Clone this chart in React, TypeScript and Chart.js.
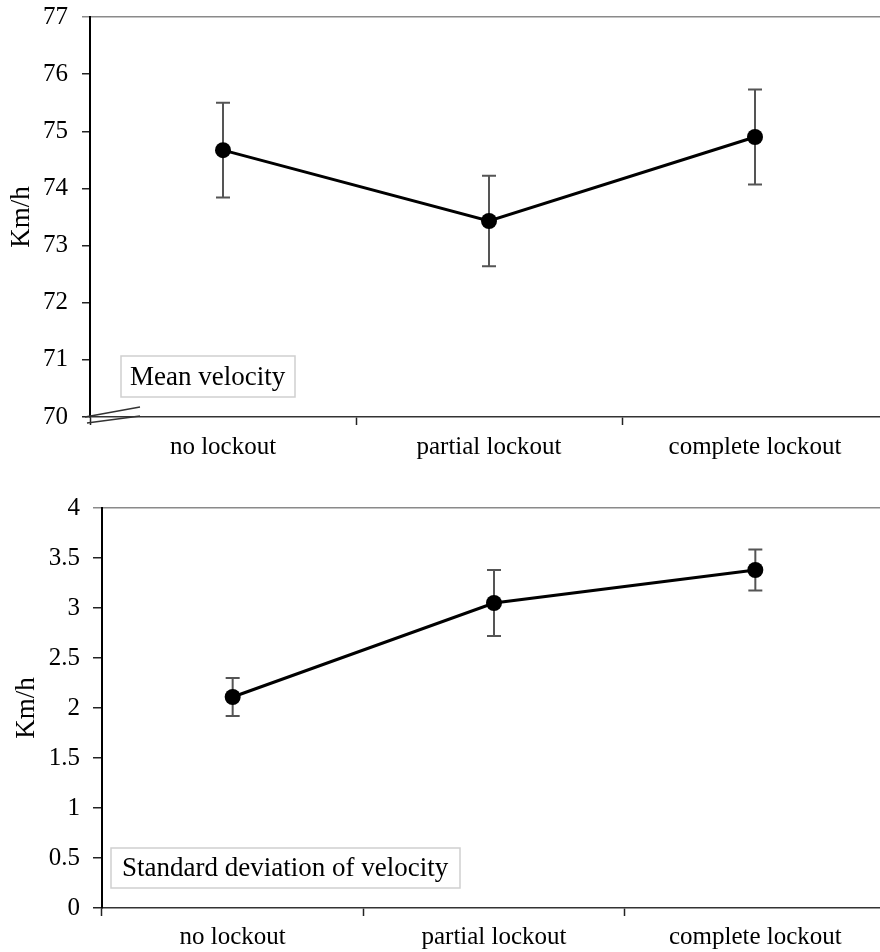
import React, { useEffect, useRef } from 'react';
import { Chart, registerables } from 'chart.js';

Chart.register(...registerables);

// ---------- data ----------
const categories = ['no lockout', 'partial lockout', 'complete lockout'];

const meanVelocity = [74.67, 73.43, 74.9];
const meanVelocityErr = [0.83, 0.79, 0.83];
const meanAxis = [70, 77, 1]; // min, max, step
const meanLabel = 'Mean velocity';

const sdVelocity = [2.11, 3.05, 3.38];
const sdVelocityErr = [0.19, 0.33, 0.205];
const sdAxis = [0, 4, 0.5]; // min, max, step
const sdLabel = 'Standard deviation of velocity';

const yTitle = 'Km/h';

const FONT = '"Liberation Serif", "Times New Roman", serif';

// ---------- plugins ----------
const errorBarPlugin = {
  id: 'errorBars',
  beforeDatasetsDraw(chart: any, _args: any, opts: any) {
    const errs: number[] = opts.errors;
    if (!errs) return;
    const meta = chart.getDatasetMeta(0);
    const ys = chart.scales.y;
    const ctx = chart.ctx;
    const cap = opts.cap || 6;
    ctx.save();
    ctx.strokeStyle = opts.color || '#666';
    ctx.lineWidth = opts.width || 1.5;
    meta.data.forEach((pt: any, i: number) => {
      const v = chart.data.datasets[0].data[i];
      const top = ys.getPixelForValue(v + errs[i]);
      const bot = ys.getPixelForValue(v - errs[i]);
      const x = pt.x;
      ctx.beginPath();
      ctx.moveTo(x, top);
      ctx.lineTo(x, bot);
      ctx.moveTo(x - cap, top);
      ctx.lineTo(x + cap, top);
      ctx.moveTo(x - cap, bot);
      ctx.lineTo(x + cap, bot);
      ctx.stroke();
    });
    ctx.restore();
  },
};

const labelBoxPlugin = {
  id: 'labelBox',
  afterDraw(chart: any, _args: any, opts: any) {
    if (!opts.text) return;
    const { left, bottom } = chart.chartArea;
    const ctx = chart.ctx;
    const x = left + opts.dx;
    const y = bottom - opts.dy;
    ctx.save();
    ctx.fillStyle = '#fff';
    ctx.fillRect(x, y, opts.w, opts.h);
    ctx.strokeStyle = '#cfcfcf';
    ctx.lineWidth = 1.5;
    ctx.strokeRect(x, y, opts.w, opts.h);
    ctx.fillStyle = '#000';
    ctx.font = `${opts.size}px ${FONT}`;
    ctx.textBaseline = 'middle';
    ctx.textAlign = 'left';
    ctx.fillText(opts.text, x + opts.pad, y + opts.h / 2 + 1);
    ctx.restore();
  },
};

const axisBreakPlugin = {
  id: 'axisBreak',
  afterDraw(chart: any, _args: any, opts: any) {
    if (!opts.enabled) return;
    const { left, bottom } = chart.chartArea;
    const ctx = chart.ctx;
    ctx.save();
    ctx.strokeStyle = '#333';
    ctx.lineWidth = 1.5;
    ctx.beginPath();
    ctx.moveTo(left - 5, bottom);
    ctx.lineTo(left + 50, bottom - 10);
    ctx.moveTo(left - 3, bottom + 6);
    ctx.lineTo(left + 50, bottom - 1);
    ctx.stroke();
    ctx.restore();
  },
};

type PanelProps = {
  values: number[];
  errors: number[];
  axis: number[];
  label: string;
  height: number;
  layout: { top: number; right: number; yWidth: number; xHeight: number };
  yTickPad: number;
  yTickLen: number;
  xTickPad: number;
  titlePad: number;
  box: { dx: number; dy: number; w: number; h: number; pad: number };
  brk: boolean;
};

function Panel(p: PanelProps) {
  const ref = useRef<HTMLCanvasElement | null>(null);
  useEffect(() => {
    if (!ref.current) return;
    const [min, max, step] = p.axis;
    const chart = new Chart(ref.current, {
      type: 'line',
      data: {
        labels: categories,
        datasets: [
          {
            label: p.label,
            data: p.values,
            borderColor: '#000',
            borderWidth: 3,
            backgroundColor: '#000',
            pointRadius: 8,
            pointBackgroundColor: '#000',
            pointBorderWidth: 0,
            tension: 0,
            fill: false,
          },
        ],
      },
      options: {
        responsive: false,
        animation: false,
        devicePixelRatio: 1,
        layout: { padding: { top: p.layout.top, right: p.layout.right, left: 0, bottom: 0 } },
        plugins: {
          legend: { display: false },
          tooltip: { enabled: false },
          errorBars: { errors: p.errors, cap: 7, color: '#555', width: 2 },
          labelBox: { text: p.label, size: 27, ...p.box },
          axisBreak: { enabled: p.brk },
        } as any,
        scales: {
          x: {
            type: 'category',
            offset: true,
            afterFit: (s: any) => {
              s.height = p.layout.xHeight;
            },
            grid: {
              display: true,
              offset: true,
              drawOnChartArea: false,
              drawTicks: true,
              tickLength: 8,
              tickColor: '#222',
              tickWidth: 1.5,
            },
            border: { display: true, color: '#333', width: 1.5 },
            ticks: {
              color: '#000',
              font: { family: FONT, size: 25 },
              padding: p.xTickPad,
              maxRotation: 0,
              autoSkip: false,
            },
          },
          y: {
            min,
            max,
            afterFit: (s: any) => {
              s.width = p.layout.yWidth;
              s.paddingTop = 0;
              s.paddingBottom = 0;
            },
            grid: {
              display: true,
              drawTicks: true,
              tickLength: p.yTickLen,
              color: (c: any) => (c.tick && c.tick.value === max ? '#8a8a8a' : 'rgba(0,0,0,0)'),
              tickColor: (c: any) => (c.tick && c.tick.value === max ? '#8a8a8a' : '#222'),
              lineWidth: 1.5,
              tickWidth: 1.5,
            },
            border: { display: true, color: '#000', width: 2 },
            ticks: {
              stepSize: step,
              color: '#000',
              font: { family: FONT, size: 25 },
              padding: p.yTickPad,
              callback: (v: any) => `${v}`,
            },
            title: {
              display: true,
              text: yTitle,
              color: '#000',
              font: { family: FONT, size: 27 },
              padding: { top: p.titlePad, bottom: 0 },
            },
          },
        },
      },
      plugins: [errorBarPlugin, labelBoxPlugin, axisBreakPlugin],
    });
    return () => chart.destroy();
  }, []);
  return (
    <canvas
      ref={ref}
      width={900}
      height={p.height}
      style={{ display: 'block', width: 900, height: p.height }}
    />
  );
}

export default function App() {
  useEffect(() => {
    document.body.style.margin = '0';
    document.body.style.background = '#fff';
  }, []);
  return (
    <div style={{ width: 880, height: 952, overflow: 'hidden', background: '#fff', position: 'relative' }}>
      <Panel
        values={meanVelocity}
        errors={meanVelocityErr}
        axis={meanAxis}
        label={meanLabel}
        height={470}
        layout={{ top: 17, right: 12, yWidth: 90, xHeight: 53 }}
        yTickPad={14}
        yTickLen={8}
        xTickPad={7}
        titlePad={6}
        box={{ dx: 31, dy: 61, w: 174, h: 41, pad: 9 }}
        brk={true}
      />
      <Panel
        values={sdVelocity}
        errors={sdVelocityErr}
        axis={sdAxis}
        label={sdLabel}
        height={482}
        layout={{ top: 38, right: 14, yWidth: 102, xHeight: 44 }}
        yTickPad={13}
        yTickLen={9}
        xTickPad={6}
        titlePad={11}
        box={{ dx: 9, dy: 60, w: 349, h: 40, pad: 11 }}
        brk={false}
      />
    </div>
  );
}
